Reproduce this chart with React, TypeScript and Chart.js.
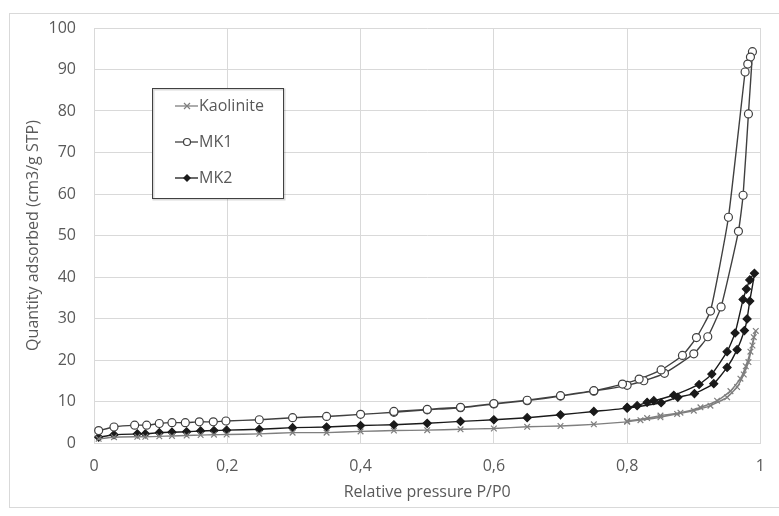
import React, { useEffect, useRef } from "react";
import { Chart, registerables } from "chart.js";
Chart.register(...registerables);

// Relative pressure (P/P0) and quantity adsorbed (cm3/g STP); adsorption then desorption
const kaoP = [0.007, 0.03, 0.065, 0.077, 0.098, 0.117, 0.139, 0.16, 0.18, 0.199, 0.248, 0.298, 0.349, 0.4, 0.45, 0.5, 0.55, 0.6, 0.65, 0.7, 0.75, 0.8, 0.82, 0.85, 0.875, 0.9, 0.925, 0.95, 0.965, 0.975, 0.982, 0.988, 0.993,
  0.99, 0.985, 0.978, 0.97, 0.955, 0.935, 0.91, 0.88, 0.85, 0.83, 0.8];
const kaoQ = [1.0, 1.4, 1.5, 1.5, 1.6, 1.7, 1.8, 1.9, 2.0, 2.05, 2.2, 2.5, 2.5, 2.8, 3.0, 3.1, 3.3, 3.5, 3.9, 4.1, 4.5, 5.1, 5.5, 6.2, 7.0, 7.8, 9.0, 11.0, 13.5, 16.5, 19.5, 23.5, 27.0,
  25.5, 22.0, 18.5, 15.5, 12.5, 10.2, 8.6, 7.3, 6.6, 6.0, 5.3];

const mk1P = [0.007, 0.03, 0.061, 0.079, 0.098, 0.117, 0.137, 0.158, 0.179, 0.198, 0.248, 0.298, 0.349, 0.4, 0.45, 0.5, 0.55, 0.6, 0.65, 0.7, 0.75, 0.8, 0.825, 0.856, 0.9, 0.921, 0.941, 0.967, 0.974, 0.982, 0.988,
  0.985, 0.981, 0.977, 0.952, 0.925, 0.904, 0.883, 0.851, 0.818, 0.793, 0.75, 0.7, 0.65, 0.6, 0.55, 0.5, 0.45];
const mk1Q = [3.0, 3.85, 4.3, 4.3, 4.7, 4.9, 4.9, 5.1, 5.1, 5.3, 5.6, 6.1, 6.4, 6.9, 7.4, 8.0, 8.5, 9.4, 10.2, 11.3, 12.5, 13.9, 15.0, 16.8, 21.5, 25.6, 32.8, 51.0, 59.7, 79.3, 94.3,
  93.0, 91.3, 89.4, 54.4, 31.8, 25.4, 21.1, 17.6, 15.4, 14.2, 12.6, 11.4, 10.3, 9.5, 8.6, 8.1, 7.6];

const mk2P = [0.007, 0.03, 0.065, 0.077, 0.098, 0.117, 0.139, 0.16, 0.18, 0.199, 0.248, 0.298, 0.349, 0.4, 0.45, 0.5, 0.55, 0.6, 0.65, 0.7, 0.75, 0.8, 0.851, 0.876, 0.901, 0.93, 0.95, 0.965, 0.976, 0.98, 0.984, 0.991,
  0.984, 0.979, 0.974, 0.962, 0.95, 0.927, 0.908, 0.87, 0.84, 0.83, 0.815, 0.8];
const mk2Q = [1.4, 2.0, 2.2, 2.2, 2.5, 2.6, 2.7, 2.9, 3.0, 3.1, 3.3, 3.7, 3.85, 4.2, 4.4, 4.75, 5.2, 5.6, 6.1, 6.8, 7.6, 8.4, 9.7, 11.0, 11.9, 14.3, 18.2, 22.5, 27.1, 29.9, 34.2, 40.9,
  39.3, 37.1, 34.6, 26.5, 22.0, 16.6, 14.1, 11.5, 10.2, 9.8, 9.0, 8.6];

const seriesNames = ["Kaolinite", "MK1", "MK2"];
const xTicks = [0, 0.2, 0.4, 0.6, 0.8, 1];

const FONT = "'Open Sans', sans-serif";
const TEXT = "#595959";
const GRID = "#d9d9d9";

const toPts = (p: number[], q: number[]) => p.map((x, i) => ({ x, y: q[i] }));

export default function App() {
  const ref = useRef<HTMLCanvasElement | null>(null);
  useEffect(() => {
    const canvas = ref.current!;
    const styles = [
      { color: "#7f7f7f", style: "crossRot", fill: "#7f7f7f", r: 4 },
      { color: "#404040", style: "circle", fill: "#ffffff", r: 4 },
      { color: "#1a1a1a", style: "rectRot", fill: "#1a1a1a", r: 4 },
    ];
    const frame = {
      id: "frame",
      beforeDraw(chart: any) {
        const c = chart.ctx;
        c.save();
        c.fillStyle = "#fff";
        c.fillRect(0, 0, chart.width, chart.height);
        c.strokeStyle = GRID;
        c.lineWidth = 1;
        c.strokeRect(9.5, 13.5, 800, 494);
        c.restore();
      },
      afterDraw(chart: any) {
        const c = chart.ctx;
        c.save();
        const bx = 152, by = 88, bw = 131, bh = 110;
        c.fillStyle = "#fff";
        c.fillRect(bx, by, bw, bh);
        c.strokeStyle = "rgba(0,0,0,0.15)";
        c.lineWidth = 2;
        c.strokeRect(bx + 1.5, by + 1.5, bw, bh);
        c.strokeStyle = "#404040";
        c.lineWidth = 1;
        c.strokeRect(bx + 0.5, by + 0.5, bw, bh);
        c.font = `16px ${FONT}`;
        c.textBaseline = "middle";
        c.textAlign = "left";
        seriesNames.forEach((name, i) => {
          const y = 106 + i * 36;
          const s = styles[i];
          c.strokeStyle = s.color;
          c.lineWidth = 1.3;
          c.beginPath();
          c.moveTo(175, y);
          c.lineTo(198, y);
          c.stroke();
          (Chart as any).helpers?.drawPoint;
          c.fillStyle = s.fill;
          c.strokeStyle = s.color;
          c.lineWidth = 1.2;
          if (s.style === "circle") {
            c.beginPath();
            c.arc(187, y, 3.5, 0, Math.PI * 2);
            c.fill();
            c.stroke();
          } else if (s.style === "rectRot") {
            c.beginPath();
            c.moveTo(187, y - 4);
            c.lineTo(191, y);
            c.lineTo(187, y + 4);
            c.lineTo(183, y);
            c.closePath();
            c.fill();
          } else {
            c.beginPath();
            c.moveTo(184, y - 3);
            c.lineTo(190, y + 3);
            c.moveTo(190, y - 3);
            c.lineTo(184, y + 3);
            c.stroke();
          }
          c.fillStyle = TEXT;
          c.fillText(name, 199, y);
        });
        c.restore();
      },
    };
    const mk = (label: string, p: number[], q: number[], i: number) => ({
      label,
      data: toPts(p, q),
      borderColor: styles[i].color,
      backgroundColor: styles[i].fill,
      pointStyle: styles[i].style,
      pointRadius: styles[i].r,
      pointBorderColor: styles[i].color,
      pointBackgroundColor: styles[i].fill,
      pointBorderWidth: 1.2,
      borderWidth: 1.4,
      tension: 0.15,
      fill: false,
    });
    const chart = new Chart(canvas, {
      type: "line",
      data: {
        datasets: [
          mk(seriesNames[0], kaoP, kaoQ, 0),
          mk(seriesNames[1], mk1P, mk1Q, 1),
          mk(seriesNames[2], mk2P, mk2Q, 2),
        ],
      },
      options: {
        responsive: false,
        animation: false,
        layout: { padding: { left: 0, right: 6, top: 28, bottom: 0 } },
        plugins: { legend: { display: false }, tooltip: { enabled: false } },
        scales: {
          x: {
            type: "linear",
            min: 0,
            max: 1,
            afterBuildTicks: (s: any) => { s.ticks = xTicks.map((v) => ({ value: v })); },
            afterFit: (s: any) => { s.height = 73; },
            grid: { color: GRID, drawTicks: false },
            border: { color: GRID },
            ticks: {
              color: TEXT,
              font: { family: FONT, size: 16 },
              padding: 14,
              callback: (v: any) => String(v).replace(".", ","),
            },
            title: {
              display: true,
              text: "Relative pressure P/P0",
              color: TEXT,
              font: { family: FONT, size: 16 },
              padding: { top: 0, bottom: 14 },
            },
          },
          y: {
            min: 0,
            max: 100,
            afterFit: (s: any) => { s.width = 94; },
            grid: { color: GRID, drawTicks: false },
            border: { color: GRID },
            ticks: {
              stepSize: 10,
              color: TEXT,
              font: { family: FONT, size: 16 },
              padding: 18,
            },
            title: {
              display: true,
              text: "Quantity adsorbed (cm3/g STP)",
              color: TEXT,
              font: { family: FONT, size: 16 },
              padding: { top: 24, bottom: 0 },
            },
          },
        },
      },
      plugins: [frame],
    } as any);
    return () => chart.destroy();
  }, []);
  return (
    <canvas
      ref={ref}
      width={779}
      height={516}
      style={{ position: "absolute", left: 0, top: 0, width: 779, height: 516 }}
    />
  );
}
